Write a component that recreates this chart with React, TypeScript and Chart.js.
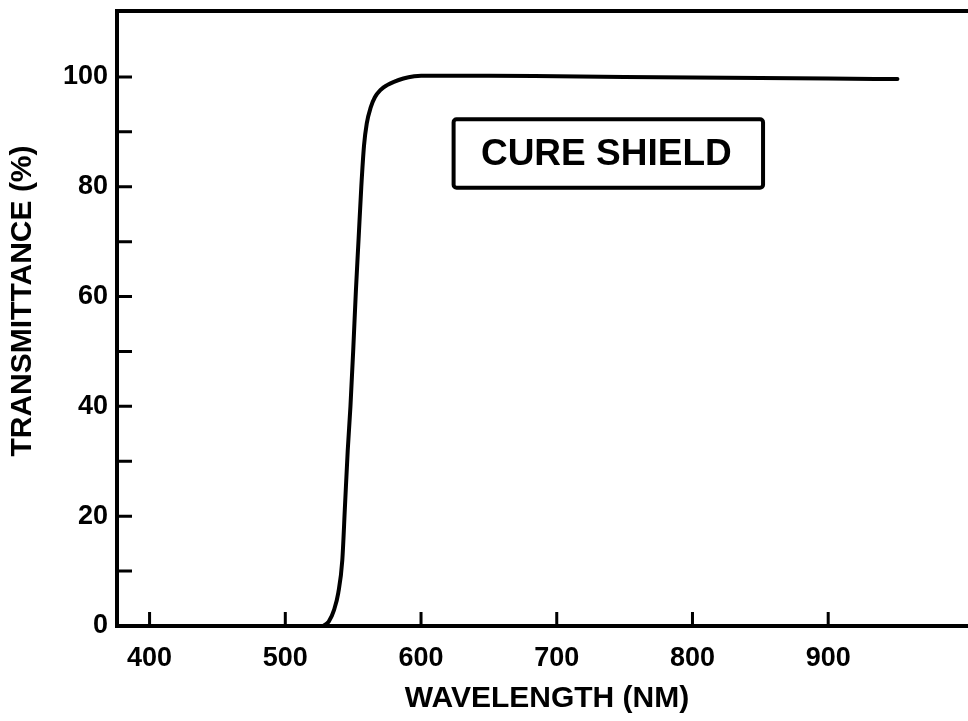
import React, { useEffect, useRef } from 'react';
import { Chart, registerables } from 'chart.js';

Chart.register(...registerables);

// ---- Data ----
const WAVELENGTH_NM = [528, 532, 536, 539, 542, 544, 546, 548, 550, 552, 554, 556, 558, 560, 563, 566, 570, 575, 580, 587, 595, 600, 650, 700, 800, 900, 951];
const TRANSMITTANCE_PCT = [0, 0.8, 3, 6, 12, 22, 32, 40, 50, 61, 70.5, 80, 87.5, 91.5, 94.5, 96.3, 97.6, 98.5, 99.1, 99.7, 100.1, 100.2, 100.2, 100.1, 99.9, 99.7, 99.6];
const X_TICKS = [400, 500, 600, 700, 800, 900];
const Y_TICKS = [0, 10, 20, 30, 40, 50, 60, 70, 80, 90, 100];
const Y_LABELED = [0, 20, 40, 60, 80, 100];
const X_TITLE = 'WAVELENGTH (NM)';
const Y_TITLE = 'TRANSMITTANCE (%)';
const BOX_LABEL = 'CURE SHIELD';

// label box corners, in data units (wavelength, transmittance)
const BOX_X = [624, 852];
const BOX_Y = [92.3, 79.8];

const FONT = '"Liberation Sans", Arial, Helvetica, sans-serif';

const framePlugin = {
  id: 'frame',
  afterDraw(chart: any) {
    const { ctx, chartArea: a, scales } = chart;
    const xs = scales.x;
    const ys = scales.y;
    ctx.save();
    ctx.strokeStyle = '#000';
    ctx.fillStyle = '#000';
    // top frame line
    ctx.lineWidth = 4;
    ctx.beginPath();
    ctx.moveTo(a.left - 2, a.top);
    ctx.lineTo(a.right, a.top);
    ctx.stroke();
    // inward tick marks
    ctx.lineWidth = 3;
    ctx.beginPath();
    for (const v of Y_TICKS) {
      const py = ys.getPixelForValue(v);
      ctx.moveTo(a.left, py);
      ctx.lineTo(a.left + 15, py);
    }
    for (const v of X_TICKS) {
      const px = xs.getPixelForValue(v);
      ctx.moveTo(px, a.bottom);
      ctx.lineTo(px, a.bottom - 14);
    }
    ctx.stroke();
    // label box
    const x0 = xs.getPixelForValue(BOX_X[0]);
    const x1 = xs.getPixelForValue(BOX_X[1]);
    const y0 = ys.getPixelForValue(BOX_Y[0]);
    const y1 = ys.getPixelForValue(BOX_Y[1]);
    ctx.lineWidth = 4;
    ctx.beginPath();
    if ((ctx as any).roundRect) {
      (ctx as any).roundRect(x0, y0, x1 - x0, y1 - y0, 3);
    } else {
      ctx.rect(x0, y0, x1 - x0, y1 - y0);
    }
    ctx.stroke();
    ctx.font = `bold 37px ${FONT}`;
    ctx.textAlign = 'center';
    ctx.textBaseline = 'middle';
    ctx.fillText(BOX_LABEL, (x0 + x1) / 2 - 2, (y0 + y1) / 2 + 1);
    // axis titles
    ctx.font = `bold 30px ${FONT}`;
    ctx.fillText(X_TITLE, 547, 699);
    ctx.translate(23, 301);
    ctx.rotate(-Math.PI / 2);
    ctx.fillText(Y_TITLE, 0, 0);
    ctx.restore();
  },
};

export default function App() {
  const ref = useRef<HTMLCanvasElement | null>(null);

  useEffect(() => {
    document.body.style.margin = '0';
    const canvas = ref.current;
    if (!canvas) return;
    const points = WAVELENGTH_NM.map((w, i) => ({ x: w, y: TRANSMITTANCE_PCT[i] }));
    const chart = new Chart(canvas, {
      type: 'line',
      data: {
        datasets: [
          {
            label: BOX_LABEL,
            data: points,
            borderColor: '#000',
            borderWidth: 4,
            pointRadius: 0,
            fill: false,
            cubicInterpolationMode: 'monotone',
            borderCapStyle: 'round',
            borderJoinStyle: 'round',
          },
        ],
      },
      options: {
        responsive: false,
        animation: false,
        devicePixelRatio: 1,
        layout: { padding: { top: 11, right: 0, left: 0, bottom: 0 } },
        plugins: {
          legend: { display: false },
          tooltip: { enabled: false },
        },
        scales: {
          x: {
            type: 'linear',
            min: 376,
            max: 1003,
            grid: { display: false, drawTicks: false },
            border: { display: true, color: '#000', width: 4 },
            afterBuildTicks: (axis: any) => {
              axis.ticks = X_TICKS.map((v) => ({ value: v }));
            },
            afterFit: (axis: any) => {
              axis.height = 95;
              axis.paddingLeft = 0;
              axis.paddingRight = 0;
            },
            ticks: {
              color: '#000',
              padding: 16,
              autoSkip: false,
              maxRotation: 0,
              font: { family: FONT, size: 27, weight: 'bold' },
              callback: (v: any) => String(v),
            },
          },
          y: {
            type: 'linear',
            min: 0,
            max: 112,
            grid: { display: false, drawTicks: false },
            border: { display: true, color: '#000', width: 4 },
            afterBuildTicks: (axis: any) => {
              axis.ticks = Y_TICKS.map((v) => ({ value: v }));
            },
            afterFit: (axis: any) => {
              axis.width = 117;
              axis.paddingTop = 0;
              axis.paddingBottom = 0;
            },
            ticks: {
              color: '#000',
              padding: 9,
              autoSkip: false,
              font: { family: FONT, size: 27, weight: 'bold' },
              callback: (v: any) => (Y_LABELED.includes(Number(v)) ? String(v) : ''),
            },
          },
        },
      },
      plugins: [framePlugin],
    });
    return () => chart.destroy();
  }, []);

  return (
    <div style={{ width: 968, height: 721, background: '#fff' }}>
      <canvas ref={ref} width={968} height={721} style={{ display: 'block' }} />
    </div>
  );
}
